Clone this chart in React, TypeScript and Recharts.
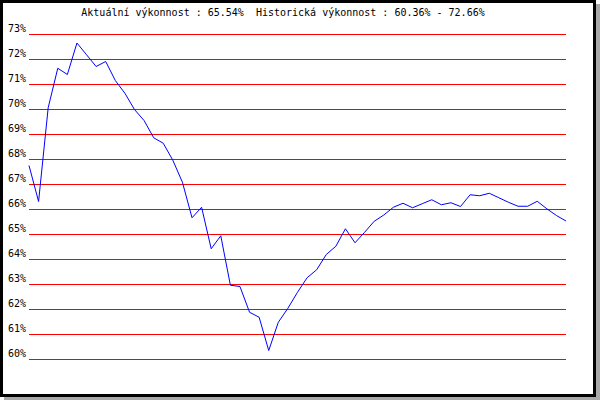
import React from 'react';
import { LineChart, Line, XAxis, YAxis, CartesianGrid } from 'recharts';

// výkonnost per sample
const values = [
  67.76, 66.32, 70.07, 71.65, 71.4, 72.66, 72.19, 71.72, 71.92, 71.16,
  70.65, 70.0, 69.56, 68.87, 68.65, 67.97, 67.09, 65.67, 66.09, 64.43,
  64.95, 62.97, 62.92, 61.89, 61.69, 60.36, 61.49, 62.05, 62.69, 63.27,
  63.59, 64.2, 64.53, 65.23, 64.67, 65.09, 65.53, 65.78, 66.09, 66.25,
  66.07, 66.23, 66.39, 66.19, 66.27, 66.12, 66.59, 66.55, 66.65, 66.47,
  66.29, 66.13, 66.13, 66.33, 66.03, 65.76, 65.54,
];
const yTicks = [60, 61, 62, 63, 64, 65, 66, 67, 68, 69, 70, 71, 72, 73];
const title = 'Aktuální výkonnost : 65.54%  Historická výkonnost : 60.36% - 72.66%';

const data = values.map((v, i) => ({ idx: i, v }));

const mono = '"DejaVu Sans Mono", monospace';

/* label sits just above its grid line */
const PctTick = ({ y, payload }: any) => (
  <text x={8} y={y - 2.5} fontFamily={mono} fontSize={10} fill="#000">
    {payload.value}%
  </text>
);

export default function App() {
  return (
    <div style={{ position: 'absolute', left: 0, top: 0, width: 600, height: 400 }}>
      {/* drop shadow + framed box */}
      <div style={{ position: 'absolute', left: 4, top: 4, width: 596, height: 396, background: '#a8a8a8' }} />
      <div style={{
        position: 'absolute', left: 0, top: 0, width: 596, height: 397,
        boxSizing: 'border-box', border: '3px solid #000', background: '#fff',
      }} />
      <div style={{
        position: 'absolute', left: 0, top: 7, width: 566, textAlign: 'center',
        fontFamily: mono, fontSize: 10, lineHeight: '12px', color: '#000', whiteSpace: 'pre',
      }}>
        {title}
      </div>
      <div style={{ position: 'absolute', left: 0, top: 0 }}>
        <LineChart width={600} height={400} data={data}
          margin={{ top: 34.5, right: 34, bottom: 40.5, left: 0 }}>
          <CartesianGrid vertical={false} stroke="#ff0000" strokeWidth={1} />
          <XAxis dataKey="idx" type="category" hide />
          <YAxis domain={[60, 73]} ticks={yTicks} interval={0} width={29}
            axisLine={false} tickLine={false} tick={<PctTick />} />
          <Line type="linear" dataKey="v" stroke="#0000ff" strokeWidth={1}
            dot={false} isAnimationActive={false} />
        </LineChart>
      </div>
    </div>
  );
}
